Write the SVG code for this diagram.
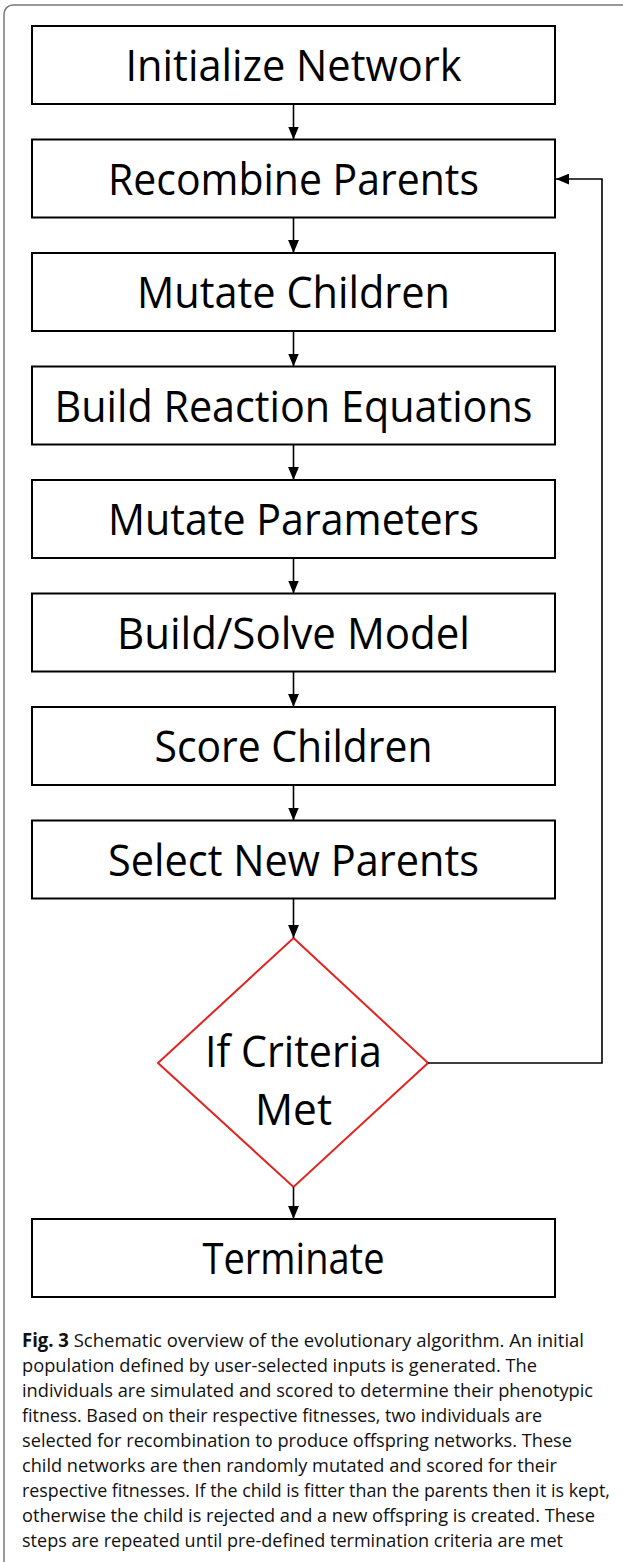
<svg xmlns="http://www.w3.org/2000/svg" width="623" height="1562" viewBox="0 0 623 1562">
<style>
.box{fill:#fff;stroke:#000;stroke-width:2}
.dia{fill:#fff;stroke:#e3231f;stroke-width:2}
.lbl{font-family:"Open Sans","Noto Sans",sans-serif;font-size:43px;fill:#000;text-anchor:middle}
.con{fill:none;stroke:#000;stroke-width:1.6}
.cap{font-family:"Open Sans","Noto Sans",sans-serif;font-size:19px;fill:#111}
</style>
<defs>
<marker id="ah" viewBox="0 0 12 10" refX="12" refY="5" markerWidth="13" markerHeight="11" markerUnits="userSpaceOnUse" orient="auto">
<path d="M0,0 L12,5 L0,10 z" fill="#000"/>
</marker>
</defs>
<rect x="0" y="0" width="623" height="1562" fill="#fff"/>
<rect x="4" y="5" width="660" height="1620" rx="9" fill="none" stroke="#777" stroke-width="1.5"/>

<g id="n1"><rect class="box" x="32" y="26" width="523" height="78"/><text class="lbl" x="293.5" y="81" textLength="336" lengthAdjust="spacingAndGlyphs">Initialize Network</text></g>
<g id="n2"><rect class="box" x="32" y="139.5" width="523" height="78"/><text class="lbl" x="293.5" y="195" textLength="371" lengthAdjust="spacingAndGlyphs">Recombine Parents</text></g>
<g id="n3"><rect class="box" x="32" y="253" width="523" height="78"/><text class="lbl" x="293.5" y="308" textLength="313" lengthAdjust="spacingAndGlyphs">Mutate Children</text></g>
<g id="n4"><rect class="box" x="32" y="366.5" width="523" height="78"/><text class="lbl" x="293.5" y="422" textLength="478" lengthAdjust="spacingAndGlyphs">Build Reaction Equations</text></g>
<g id="n5"><rect class="box" x="32" y="480" width="523" height="78"/><text class="lbl" x="293.5" y="535" textLength="371" lengthAdjust="spacingAndGlyphs">Mutate Parameters</text></g>
<g id="n6"><rect class="box" x="32" y="593.5" width="523" height="78"/><text class="lbl" x="293.5" y="649" textLength="353" lengthAdjust="spacingAndGlyphs">Build/Solve Model</text></g>
<g id="n7"><rect class="box" x="32" y="707" width="523" height="78"/><text class="lbl" x="293.5" y="762" textLength="278" lengthAdjust="spacingAndGlyphs">Score Children</text></g>
<g id="n8"><rect class="box" x="32" y="820.5" width="523" height="78"/><text class="lbl" x="293.5" y="876" textLength="371" lengthAdjust="spacingAndGlyphs">Select New Parents</text></g>
<g id="n9"><polygon class="dia" points="293.5,938 428,1063 293.5,1187 158,1063"/><text class="lbl" x="293.5" y="1067" textLength="177" lengthAdjust="spacingAndGlyphs">If Criteria</text><text class="lbl" x="293.5" y="1125" textLength="77" lengthAdjust="spacingAndGlyphs">Met</text></g>
<g id="n10"><rect class="box" x="32" y="1219" width="523" height="78"/><text class="lbl" x="293.5" y="1274" textLength="182" lengthAdjust="spacingAndGlyphs">Terminate</text></g>

<g id="connectors">
<line class="con" x1="293.5" y1="104" x2="293.5" y2="139.5" marker-end="url(#ah)"/>
<line class="con" x1="293.5" y1="217.5" x2="293.5" y2="253" marker-end="url(#ah)"/>
<line class="con" x1="293.5" y1="331" x2="293.5" y2="366.5" marker-end="url(#ah)"/>
<line class="con" x1="293.5" y1="444.5" x2="293.5" y2="480" marker-end="url(#ah)"/>
<line class="con" x1="293.5" y1="558" x2="293.5" y2="593.5" marker-end="url(#ah)"/>
<line class="con" x1="293.5" y1="671.5" x2="293.5" y2="707" marker-end="url(#ah)"/>
<line class="con" x1="293.5" y1="785" x2="293.5" y2="820.5" marker-end="url(#ah)"/>
<line class="con" x1="293.5" y1="898.5" x2="293.5" y2="938" marker-end="url(#ah)"/>
<line class="con" x1="293.5" y1="1187" x2="293.5" y2="1219" marker-end="url(#ah)"/>
<polyline class="con" stroke="#333" points="428,1063 602,1063 602,179 556,179" marker-end="url(#ah)"/>
</g>

<g id="caption">
<text class="cap" x="22" y="1347" textLength="562" lengthAdjust="spacingAndGlyphs"><tspan font-weight="700">Fig. 3</tspan> Schematic overview of the evolutionary algorithm. An initial</text>
<text class="cap" x="22" y="1372" textLength="515" lengthAdjust="spacingAndGlyphs">population defined by user-selected inputs is generated. The</text>
<text class="cap" x="22" y="1397" textLength="571" lengthAdjust="spacingAndGlyphs">individuals are simulated and scored to determine their phenotypic</text>
<text class="cap" x="22" y="1422" textLength="520" lengthAdjust="spacingAndGlyphs">fitness. Based on their respective fitnesses, two individuals are</text>
<text class="cap" x="22" y="1447" textLength="550" lengthAdjust="spacingAndGlyphs">selected for recombination to produce offspring networks. These</text>
<text class="cap" x="22" y="1472" textLength="535" lengthAdjust="spacingAndGlyphs">child networks are then randomly mutated and scored for their</text>
<text class="cap" x="22" y="1497" textLength="588" lengthAdjust="spacingAndGlyphs">respective fitnesses. If the child is fitter than the parents then it is kept,</text>
<text class="cap" x="22" y="1522" textLength="573" lengthAdjust="spacingAndGlyphs">otherwise the child is rejected and a new offspring is created. These</text>
<text class="cap" x="22" y="1547" textLength="541" lengthAdjust="spacingAndGlyphs">steps are repeated until pre-defined termination criteria are met</text>
</g>
</svg>
